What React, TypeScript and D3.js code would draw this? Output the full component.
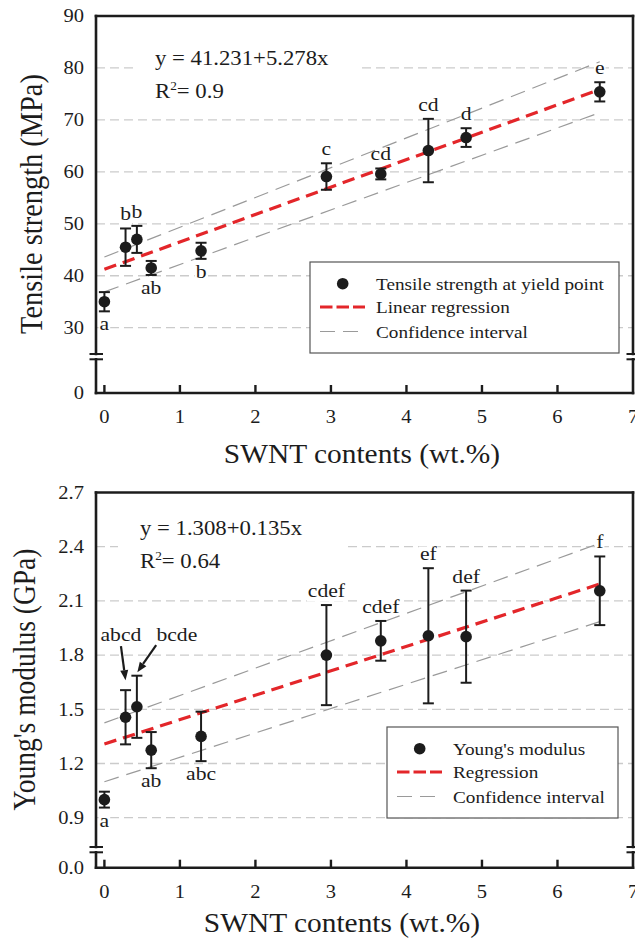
import React from "react";
import * as d3 from "d3";

// ---- data -------------------------------------------------------------
const swnt = [0, 0.28, 0.43, 0.62, 1.28, 2.94, 3.66, 4.29, 4.79, 6.56];

const tensile = [35.0, 45.5, 47.0, 41.5, 44.8, 59.1, 59.6, 64.1, 66.6, 75.4];
const tensileErr = [1.85, 3.6, 2.6, 1.35, 1.55, 2.55, 1.05, 6.1, 1.8, 1.85];
const tensileGroups = ["a", "b", "b", "ab", "b", "c", "cd", "cd", "d", "e"];
const tensileGroupSide = ["below", "above", "above", "below", "below", "above", "above", "above", "above", "above"];
const tensileFit = [41.231, 5.278]; // intercept, slope
const tensileBandUpper = [43.6, 81.2]; // at min / max SWNT content
const tensileBandLower = [36.9, 71.4];
const tensileTicks = [30, 40, 50, 60, 70, 80, 90];
const tensileGrid = [30, 40, 50, 60, 70, 80];
const tensileLegend = ["Tensile strength at yield point", "Linear regression", "Confidence interval"];

const modulus = [1.0, 1.456, 1.514, 1.274, 1.35, 1.8, 1.879, 1.907, 1.902, 2.156];
const modulusErr = [0.044, 0.15, 0.172, 0.1, 0.137, 0.277, 0.11, 0.374, 0.255, 0.19];
const modulusGroups = ["a", "abcd", "bcde", "ab", "abc", "cdef", "cdef", "ef", "def", "f"];
const modulusGroupSide = ["below", "arrow", "arrow", "below", "below", "above", "above", "above", "above", "above"];
const modulusFit = [1.308, 0.135];
const modulusBandUpper = [1.425, 2.419];
const modulusBandLower = [1.099, 1.985];
const modulusTicks = [0.9, 1.2, 1.5, 1.8, 2.1, 2.4, 2.7];
const modulusGrid = [0.9, 1.2, 1.5, 1.8, 2.1, 2.4];
const modulusLegend = ["Young's modulus", "Regression", "Confidence interval"];

const xTickValues = [0, 1, 2, 3, 4, 5, 6, 7];

// ---- styling ------------------------------------------------------------
const SX = 1.11; // horizontal glyph stretch
const SERIF = "'Liberation Serif','Times New Roman',Times,serif";
const INK = "#1c1c1c";
const RED = "#e3262a";
const BAND = "#9a9a9a";
const GRID = "#cbcbcb";

const X_LEFT = 96;
const X_RIGHT = 633;
const xScale = d3.scaleLinear().domain([0, 7]).range([104.4, 633]);

const GLYPH: Record<string, number> = { a: 0.444, b: 0.5, c: 0.444, d: 0.5, e: 0.444, f: 0.333 };
const textWidth = (s: string, size: number) =>
  s.split("").reduce((w, ch) => w + (GLYPH[ch] ?? 0.5), 0) * size * SX;

function SText(props: {
  x: number;
  y: number;
  size: number;
  anchor?: "start" | "middle" | "end";
  rotate?: boolean;
  children: React.ReactNode;
}) {
  const { x, y, size, anchor = "start", rotate = false, children } = props;
  const tr = `translate(${x},${y}) scale(${SX},1)` + (rotate ? " rotate(-90)" : "");
  return (
    <text transform={tr} fontSize={size} textAnchor={anchor} fontFamily={SERIF} fill={INK}>
      {children}
    </text>
  );
}

type ArrowNote = { index: number; dx: number; dy: number; sx: number; sy: number; tx: number; ty: number };

type PanelSpec = {
  frameTop: number;
  frameBottom: number;
  breakY: number;
  yDomain: [number, number];
  yRange: [number, number];
  ticks: number[];
  grid: number[];
  fmt: (v: number) => string;
  zeroLabel: string;
  values: number[];
  errors: number[];
  groups: string[];
  sides: string[];
  fit: number[];
  bandUpper: number[];
  bandLower: number[];
  eq: string;
  r2: string;
  eqX: number;
  eqY: number;
  legend: string[];
  legendBox: { x: number; y: number; w: number; h: number };
  yTitle: string;
  yTitleSize: number;
  yTitleX: number;
  yTitleY: number;
  xTitleX: number;
  xTitleY: number;
  notes?: ArrowNote[];
};

function Panel({ s }: { s: PanelSpec }) {
  const y = d3.scaleLinear().domain(s.yDomain).range(s.yRange);
  const xMin = d3.min(swnt) as number;
  const xMax = d3.max(swnt) as number;
  const line = d3
    .line<[number, number]>()
    .x((d) => xScale(d[0]))
    .y((d) => y(d[1]));
  const fitPts: [number, number][] = [
    [xMin, s.fit[0] + s.fit[1] * xMin],
    [xMax, s.fit[0] + s.fit[1] * xMax],
  ];
  const upPts: [number, number][] = [
    [xMin, s.bandUpper[0]],
    [xMax, s.bandUpper[1]],
  ];
  const loPts: [number, number][] = [
    [xMin, s.bandLower[0]],
    [xMax, s.bandLower[1]],
  ];
  const GAP = 5.3;
  const labelSize = 19.5;
  const cap = 5.5;

  // group-letter placements
  const labels = swnt.map((xv, i) => {
    const cx = xScale(xv);
    const top = y(s.values[i] + s.errors[i]);
    const bot = y(s.values[i] - s.errors[i]);
    const side = s.sides[i];
    if (side === "above") return { i, x: cx, y: top - 8, text: s.groups[i] };
    if (side === "below") return { i, x: cx, y: bot + 19, text: s.groups[i] };
    const n = (s.notes || []).find((k) => k.index === i)!;
    return { i, x: cx + n.dx, y: top + n.dy, text: s.groups[i], note: n, barTop: top, cx };
  });

  const lb = s.legendBox;
  const rows = [lb.y + 21.7, lb.y + 45, lb.y + 69.5];
  const eqW = 190;

  return (
    <g>
      {/* dashed horizontal grid */}
      {s.grid.map((v) => (
        <line key={v} x1={X_LEFT} x2={X_RIGHT} y1={y(v)} y2={y(v)} stroke={GRID} strokeWidth={1.3} strokeDasharray="9 5" />
      ))}
      {/* equation backdrop */}
      <rect x={s.eqX - 22} y={s.eqY - 26} width={eqW + 22 + 17} height={68} fill="#fff" />
      {/* label backdrops */}
      {labels.map((l) => {
        const w = textWidth(l.text, labelSize);
        return (
          <rect key={"bg" + l.i} x={l.x - w / 2 - 1} y={l.y - labelSize * 0.7} width={w + 2} height={labelSize * 0.93} fill="#fff" />
        );
      })}
      {/* confidence interval and regression */}
      <path d={line(upPts) || ""} fill="none" stroke={BAND} strokeWidth={1.2} strokeDasharray="15 8" />
      <path d={line(loPts) || ""} fill="none" stroke={BAND} strokeWidth={1.2} strokeDasharray="15 8" />
      <path d={line(fitPts) || ""} fill="none" stroke={RED} strokeWidth={3.2} strokeDasharray="12.5 7" />
      {/* error bars */}
      {swnt.map((xv, i) => {
        const cx = xScale(xv);
        const t = y(s.values[i] + s.errors[i]);
        const b = y(s.values[i] - s.errors[i]);
        return (
          <g key={"e" + i} stroke={INK} strokeWidth={2}>
            <line x1={cx} x2={cx} y1={t} y2={b} />
            <line x1={cx - cap} x2={cx + cap} y1={t} y2={t} />
            <line x1={cx - cap} x2={cx + cap} y1={b} y2={b} />
          </g>
        );
      })}
      {/* points */}
      {swnt.map((xv, i) => (
        <circle key={"p" + i} cx={xScale(xv)} cy={y(s.values[i])} r={5.8} fill={INK} />
      ))}
      {/* group letters */}
      {labels.map((l) => (
        <SText key={"l" + l.i} x={l.x} y={l.y} size={labelSize} anchor="middle">
          {l.text}
        </SText>
      ))}
      {/* arrows for crowded letters */}
      {labels
        .filter((l) => (l as any).note)
        .map((l: any) => {
          const n: ArrowNote = l.note;
          const x0 = l.x + n.sx;
          const y0 = l.y + n.sy;
          const x1 = l.cx + n.tx;
          const y1 = l.barTop + n.ty;
          const ang = Math.atan2(y1 - y0, x1 - x0);
          const len = 10;
          const hw = 4;
          const bx = x1 - len * Math.cos(ang);
          const by = y1 - len * Math.sin(ang);
          const px = -Math.sin(ang) * hw;
          const py = Math.cos(ang) * hw;
          return (
            <g key={"a" + l.i}>
              <line x1={x0} y1={y0} x2={bx} y2={by} stroke={INK} strokeWidth={2.2} />
              <polygon points={`${x1},${y1} ${bx + px},${by + py} ${bx - px},${by - py}`} fill={INK} />
            </g>
          );
        })}
      {/* equation */}
      <SText x={s.eqX} y={s.eqY} size={20.5}>
        {s.eq}
      </SText>
      <SText x={s.eqX} y={s.eqY + 33} size={20.5}>
        R
        <tspan fontSize={12} dy={-8}>
          2
        </tspan>
        <tspan dy={8}>{"= " + s.r2}</tspan>
      </SText>
      {/* legend */}
      <rect x={lb.x} y={lb.y} width={lb.w} height={lb.h} fill="#fff" stroke="#555" strokeWidth={1.2} />
      <circle cx={lb.x + 32.7} cy={rows[0]} r={5.8} fill={INK} />
      <line x1={lb.x + 10} x2={lb.x + 55} y1={rows[1]} y2={rows[1]} stroke={RED} strokeWidth={3.2} strokeDasharray="12.5 4" />
      <line x1={lb.x + 10} x2={lb.x + 55} y1={rows[2]} y2={rows[2]} stroke={BAND} strokeWidth={1.2} strokeDasharray="15 8" />
      {s.legend.map((t, k) => (
        <SText key={t} x={lb.x + 66} y={rows[k] + 6} size={17.3}>
          {t}
        </SText>
      ))}
      {/* frame with axis breaks */}
      <g stroke={INK} strokeWidth={2.6} fill="none" strokeLinecap="square">
        <line x1={X_LEFT} x2={X_RIGHT} y1={s.frameTop} y2={s.frameTop} />
        <line x1={X_LEFT} x2={X_RIGHT} y1={s.frameBottom} y2={s.frameBottom} />
        <line x1={X_LEFT} x2={X_LEFT} y1={s.frameTop} y2={s.breakY} />
        <line x1={X_LEFT} x2={X_LEFT} y1={s.breakY + GAP} y2={s.frameBottom} />
        <line x1={X_RIGHT} x2={X_RIGHT} y1={s.frameTop} y2={s.breakY} />
        <line x1={X_RIGHT} x2={X_RIGHT} y1={s.breakY + GAP} y2={s.frameBottom} />
      </g>
      <g stroke={INK} strokeWidth={2}>
        <line x1={X_LEFT - 6.5} x2={X_LEFT + 7} y1={s.breakY} y2={s.breakY} />
        <line x1={X_LEFT - 6.5} x2={X_LEFT + 7} y1={s.breakY + GAP} y2={s.breakY + GAP} />
        <line x1={X_RIGHT - 6.5} x2={X_RIGHT + 7} y1={s.breakY} y2={s.breakY} />
        <line x1={X_RIGHT - 6.5} x2={X_RIGHT + 7} y1={s.breakY + GAP} y2={s.breakY + GAP} />
      </g>
      {/* x ticks */}
      {xTickValues
        .filter((v) => v < 7)
        .map((v) => (
          <line key={"xt" + v} x1={xScale(v)} x2={xScale(v)} y1={s.frameBottom} y2={s.frameBottom - 8} stroke={INK} strokeWidth={2.4} />
        ))}
      {xTickValues.map((v) => (
        <SText key={"xl" + v} x={xScale(v)} y={s.frameBottom + 30} size={18.5} anchor="middle">
          {String(v)}
        </SText>
      ))}
      {/* y tick labels */}
      {s.ticks.map((v) => (
        <SText key={"yl" + v} x={84} y={y(v) + 6.3} size={18.5} anchor="end">
          {s.fmt(v)}
        </SText>
      ))}
      <SText x={84} y={s.frameBottom + 6.3} size={18.5} anchor="end">
        {s.zeroLabel}
      </SText>
      {/* axis titles */}
      <SText x={s.xTitleX} y={s.xTitleY} size={26.5} anchor="middle">
        SWNT contents (wt.%)
      </SText>
      <SText x={s.yTitleX} y={s.yTitleY} size={s.yTitleSize} anchor="middle" rotate>
        {s.yTitle}
      </SText>
    </g>
  );
}

const tensilePanel: PanelSpec = {
  frameTop: 16,
  frameBottom: 393,
  breakY: 354,
  yDomain: [30, 90],
  yRange: [327.7, 16],
  ticks: tensileTicks,
  grid: tensileGrid,
  fmt: d3.format("d"),
  zeroLabel: "0",
  values: tensile,
  errors: tensileErr,
  groups: tensileGroups,
  sides: tensileGroupSide,
  fit: tensileFit,
  bandUpper: tensileBandUpper,
  bandLower: tensileBandLower,
  eq: "y = 41.231+5.278x",
  r2: "0.9",
  eqX: 155,
  eqY: 65,
  legend: tensileLegend,
  legendBox: { x: 310, y: 262, w: 309, h: 91 },
  yTitle: "Tensile strength (MPa)",
  yTitleSize: 28.4,
  yTitleX: 41.5,
  yTitleY: 204,
  xTitleX: 362,
  xTitleY: 463,
};

const modulusPanel: PanelSpec = {
  frameTop: 492.5,
  frameBottom: 867.7,
  breakY: 847,
  yDomain: [0.9, 2.7],
  yRange: [817.7, 492.5],
  ticks: modulusTicks,
  grid: modulusGrid,
  fmt: d3.format(".1f"),
  zeroLabel: "0.0",
  values: modulus,
  errors: modulusErr,
  groups: modulusGroups,
  sides: modulusGroupSide,
  fit: modulusFit,
  bandUpper: modulusBandUpper,
  bandLower: modulusBandLower,
  eq: "y = 1.308+0.135x",
  r2: "0.64",
  eqX: 140,
  eqY: 535,
  legend: modulusLegend,
  legendBox: { x: 387, y: 727, w: 231, h: 91 },
  yTitle: "Young's modulus (GPa)",
  yTitleSize: 27.5,
  yTitleX: 35,
  yTitleY: 679.5,
  xTitleX: 342,
  xTitleY: 932,
  notes: [
    { index: 1, dx: -4.6, dy: -49, sx: 0, sy: 5, tx: 0, ty: -10 },
    { index: 2, dx: 40, dy: -34.6, sx: -20.7, sy: 4, tx: 0.5, ty: -3.5 },
  ],
};

export default function App() {
  return (
    <svg
      width={635}
      height={938}
      viewBox="0 0 635 938"
      style={{ position: "absolute", left: 0, top: 0, background: "#fff" }}
    >
      <rect width={635} height={938} fill="#fff" />
      <Panel s={tensilePanel} />
      <Panel s={modulusPanel} />
    </svg>
  );
}
